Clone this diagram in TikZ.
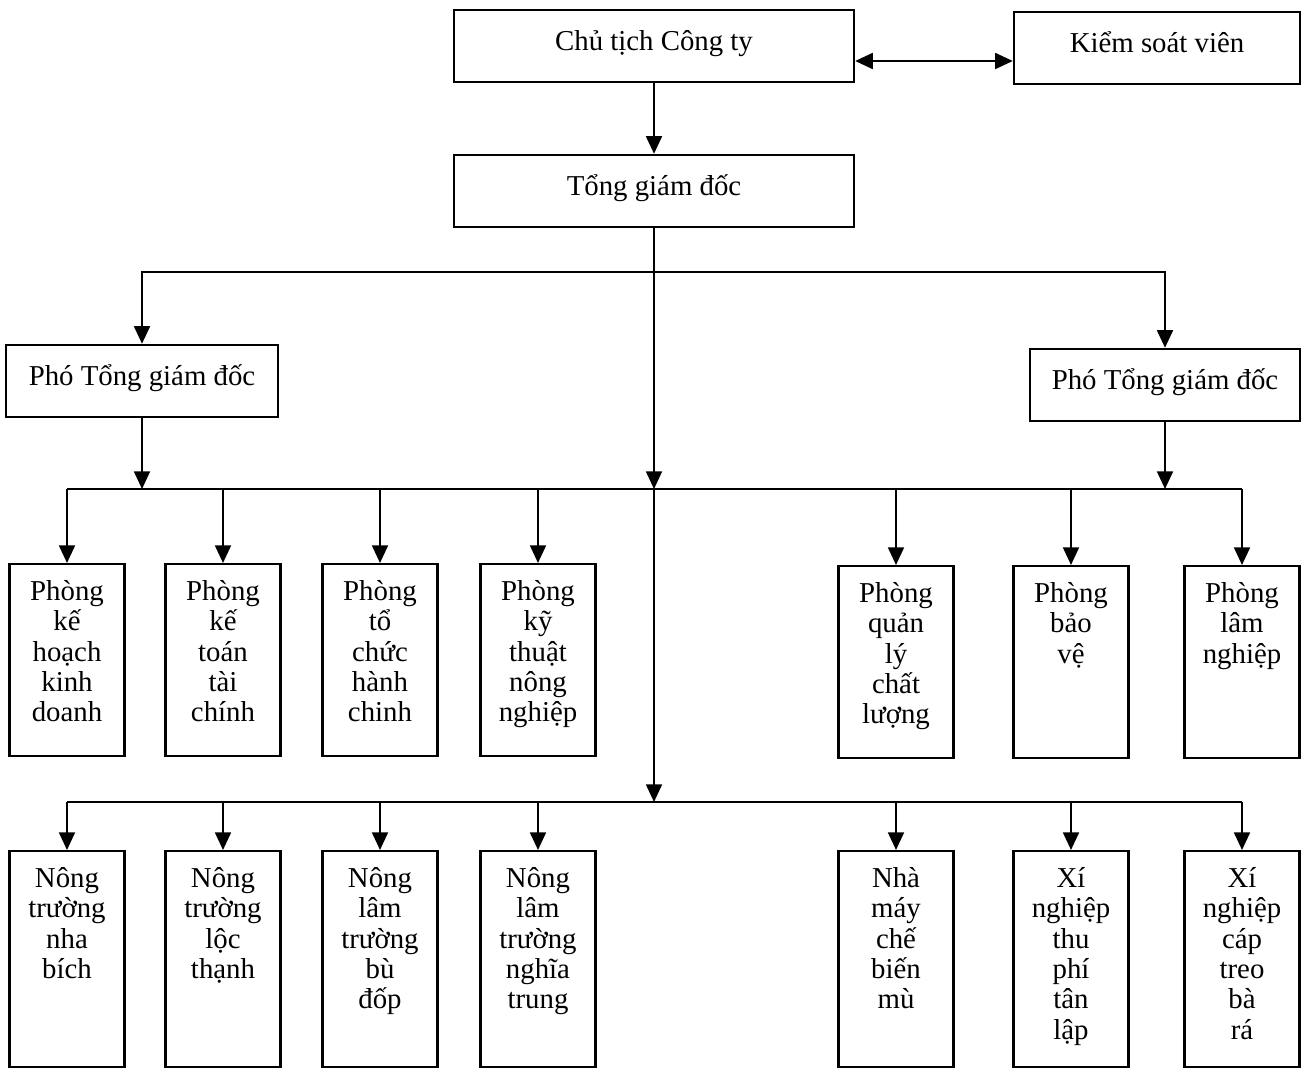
\documentclass[tikz,border=0pt]{standalone}
\usepackage{fontspec}
\setmainfont{Liberation Serif}
\usetikzlibrary{arrows.meta}
\tikzset{
  head/.style={draw, line width=1.4pt, inner sep=0pt, text height=0.8cm, text depth=0.64cm},
  dept/.style={draw, line width=1.4pt, anchor=north, inner sep=0pt, text width=2.3cm, align=center, text height=0.72cm, text depth=3.12cm},
  unit/.style={dept, text depth=3.6cm},
  arr/.style={line width=1.3pt, -{Triangle[width=9pt,length=10pt]}},
  bus/.style={line width=1.3pt}
}
\begin{document}
\begin{tikzpicture}[x=0.02cm, y=-0.02cm, font=\fontsize{16.4}{17.3}\selectfont]
  \useasboundingbox (0,0) rectangle (1302,1069);
  \node[head, minimum width=8cm] (chu) at (654,46) {Chủ tịch Công ty};
  \node[head, minimum width=5.72cm] (kiem) at (1157,48) {Kiểm soát viên};
  \node[head, minimum width=8cm] (tong) at (654,191) {Tổng giám đốc};
  \node[head, minimum width=5.44cm] (pho1) at (142,381) {Phó Tổng giám đốc};
  \node[head, minimum width=5.4cm] (pho2) at (1165,385) {Phó Tổng giám đốc};

  \node[dept] (p1) at (67,563) {Phòng\\ kế\\ hoạch\\ kinh\\ doanh};
  \node[dept] (p2) at (223,563) {Phòng\\ kế\\ toán\\ tài\\ chính};
  \node[dept] (p3) at (380,563) {Phòng\\ tổ\\ chức\\ hành\\ chinh};
  \node[dept] (p4) at (538,563) {Phòng\\ kỹ\\ thuật\\ nông\\ nghiệp};
  \node[dept] (p5) at (896,565) {Phòng\\ quản\\ lý\\ chất\\ lượng};
  \node[dept] (p6) at (1071,565) {Phòng\\ bảo\\ vệ};
  \node[dept] (p7) at (1242,565) {Phòng\\ lâm\\ nghiệp};

  \node[unit] (u1) at (67,850) {Nông\\ trường\\ nha\\ bích};
  \node[unit] (u2) at (223,850) {Nông\\ trường\\ lộc\\ thạnh};
  \node[unit] (u3) at (380,850) {Nông\\ lâm\\ trường\\ bù\\ đốp};
  \node[unit] (u4) at (538,850) {Nông\\ lâm\\ trường\\ nghĩa\\ trung};
  \node[unit] (u5) at (896,850) {Nhà\\ máy\\ chế\\ biến\\ mù};
  \node[unit] (u6) at (1071,850) {Xí\\ nghiệp\\ thu\\ phí\\ tân\\ lập};
  \node[unit] (u7) at (1242,850) {Xí\\ nghiệp\\ cáp\\ treo\\ bà\\ rá};

  \coordinate (top) at (654,272);
  \coordinate (mid) at (654,489);
  \coordinate (low) at (654,802);

  \draw [arr] (chu.south) -- (tong.north);
  \draw [arr, {Triangle[width=9pt,length=10pt]}-{Triangle[width=9pt,length=10pt]}] ([yshift=-0.3cm]chu.east) -- ([yshift=-0.3cm]chu.east -| kiem.west);
  \draw [arr] (tong.south) -- (mid);
  \draw [arr] (mid) -- (low);
  \draw [arr] (top) -| (pho1.north);
  \draw [arr] (top) -| (pho2.north);
  \draw [arr] (pho1.south) -- (pho1.south |- mid);
  \draw [arr] (pho2.south) -- (pho2.south |- mid);

  \draw [bus] (p1.north |- mid) -- (p7.north |- mid);
  \draw [arr] (p1.north |- mid) -- (p1.north);
  \draw [arr] (p2.north |- mid) -- (p2.north);
  \draw [arr] (p3.north |- mid) -- (p3.north);
  \draw [arr] (p4.north |- mid) -- (p4.north);
  \draw [arr] (p5.north |- mid) -- (p5.north);
  \draw [arr] (p6.north |- mid) -- (p6.north);
  \draw [arr] (p7.north |- mid) -- (p7.north);

  \draw [bus] (u1.north |- low) -- (u7.north |- low);
  \draw [arr] (u1.north |- low) -- (u1.north);
  \draw [arr] (u2.north |- low) -- (u2.north);
  \draw [arr] (u3.north |- low) -- (u3.north);
  \draw [arr] (u4.north |- low) -- (u4.north);
  \draw [arr] (u5.north |- low) -- (u5.north);
  \draw [arr] (u6.north |- low) -- (u6.north);
  \draw [arr] (u7.north |- low) -- (u7.north);
\end{tikzpicture}
\end{document}
